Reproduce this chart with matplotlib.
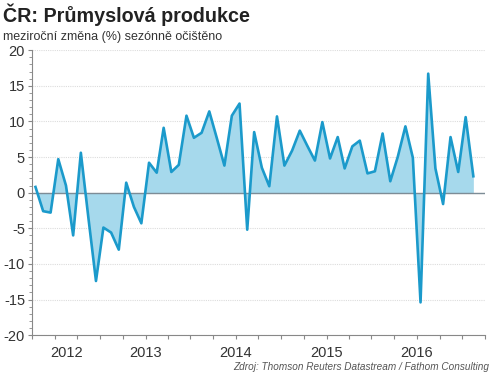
import matplotlib
matplotlib.use("Agg")
import numpy as np
import pandas as pd
import matplotlib.pyplot as plt
import matplotlib.dates as mdates

# monthly data, Oct 2011 - Aug 2016
start_month = "2011-10"
values = [
    0.8, -2.6, -2.8, 4.7, 1.0, -6.0, 5.6, -3.4, -12.4, -4.9,
    -5.6, -8.0, 1.4, -2.0, -4.3, 4.2, 2.8, 9.1, 2.9, 3.9,
    10.8, 7.7, 8.4, 11.4, 7.7, 3.8, 10.8, 12.5, -5.2, 8.5,
    3.5, 0.9, 10.7, 3.8, 5.9, 8.7, 6.6, 4.5, 9.9, 4.8,
    7.8, 3.4, 6.5, 7.3, 2.7, 3.0, 8.3, 1.6, 5.0, 9.3,
    4.9, -15.4, 16.7, 3.4, -1.6, 7.8, 2.9, 10.6, 2.3,
]
year_labels = ["2012", "2013", "2014", "2015", "2016"]

title = "ČR: Průmyslová produkce"
subtitle = "meziroční změna (%) sezónně očištěno"
source = "Zdroj: Thomson Reuters Datastream / Fathom Consulting"

line_color = "#1b9acb"
fill_color = "#a6d9ec"

plt.rcParams["font.family"] = ["Liberation Sans", "DejaVu Sans"]
plt.rcParams["axes.unicode_minus"] = False

# points sit in the middle of each month
dates = pd.date_range(start_month, periods=len(values), freq="MS") + pd.Timedelta(days=14)
y = np.array(values)

fig = plt.figure(figsize=(5.0, 3.77), dpi=100)
ax = fig.add_axes([0.064, 0.111, 0.906, 0.756])

ax.fill_between(dates, y, 0, color=fill_color, linewidth=0)
ax.axhline(0, color="#7d8c96", linewidth=1.0, zorder=2)
ax.plot(dates, y, color=line_color, linewidth=1.9, zorder=3, solid_joinstyle="round")

ax.set_ylim(-20, 20)
ax.set_xlim(pd.Timestamp("2011-10-01"), pd.Timestamp("2016-10-01"))

ax.set_yticks(np.arange(-20, 21, 5))
ax.set_yticks(np.arange(-20, 21, 1), minor=True)
ax.yaxis.grid(True, color="#dcdcdc", linestyle=(0, (1, 1)), linewidth=0.8)
ax.set_axisbelow(True)

ax.xaxis.set_major_locator(mdates.MonthLocator(bymonth=[1, 4, 7, 10]))
ax.xaxis.set_major_formatter(plt.NullFormatter())
year_pos = [pd.Timestamp(f"{yr}-01-01") for yr in year_labels]
for yr, pos in zip(year_labels, year_pos):
    # first label is nudged right in the original
    shift = pd.Timedelta(days=48) if yr == "2012" else pd.Timedelta(0)
    ax.text(pos + shift, -21.5, yr, ha="center", va="top", fontsize=10.5, color="#333333")

for side in ["top", "right"]:
    ax.spines[side].set_visible(False)
ax.spines["left"].set_color("#888888")
ax.spines["bottom"].set_color("#888888")

ax.tick_params(axis="y", which="major", length=3, color="#888888", labelsize=10.5,
               labelcolor="#333333", pad=2)
ax.tick_params(axis="y", which="minor", length=2, color="#888888")
ax.tick_params(axis="x", which="major", length=3, color="#888888")

fig.text(0.006, 0.942, title, fontsize=14.2, fontweight="bold", color="#222222", va="baseline")
fig.text(0.006, 0.893, subtitle, fontsize=9, color="#333333", va="baseline")
fig.text(0.978, 0.018, source, fontsize=7.2, style="italic", color="#555555",
         ha="right", va="baseline")

fig.savefig("out.png", dpi=100)
